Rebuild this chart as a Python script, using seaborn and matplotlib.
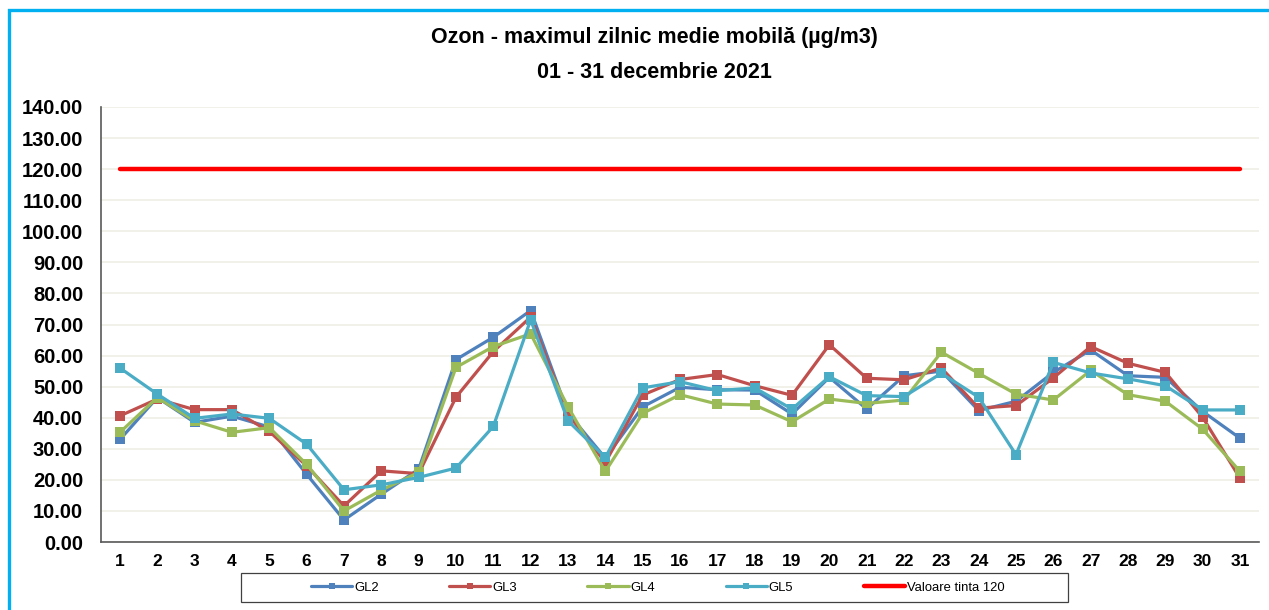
import matplotlib
matplotlib.use("Agg")
import matplotlib.pyplot as plt
import matplotlib.patches as patches
import seaborn as sns
import pandas as pd

days = list(range(1, 32))
gl2 = [33.0, 46.5, 38.5, 40.5, 37.0, 21.8, 7.1, 15.4, 23.4, 58.7, 65.9, 74.5, 41.5, 27.0, 43.5,
       49.8, 49.0, 48.9, 41.2, 53.0, 42.8, 53.5, 55.0, 42.3, 45.3, 54.6, 61.8, 53.5, 53.0, 42.0, 33.4]
gl3 = [40.6, 46.0, 42.6, 42.6, 35.6, 24.5, 11.6, 22.9, 22.0, 46.6, 61.3, 72.4, 41.2, 25.6, 47.3,
       52.3, 53.9, 50.3, 47.2, 63.5, 52.7, 52.2, 56.0, 43.1, 43.9, 52.8, 62.9, 57.5, 54.6, 40.1, 20.5]
gl4 = [35.3, 46.5, 39.0, 35.3, 36.8, 25.0, 10.0, 16.7, 22.4, 56.2, 62.9, 67.0, 43.5, 22.7, 41.4,
       47.4, 44.4, 44.1, 38.7, 46.0, 44.6, 45.7, 61.1, 54.3, 47.6, 45.7, 55.2, 47.4, 45.3, 36.3, 22.7]
gl5 = [56.0, 47.6, 39.8, 41.2, 39.8, 31.5, 16.8, 18.4, 20.8, 23.8, 37.2, 71.5, 39.0, 27.2, 49.6,
       51.6, 48.7, 49.6, 42.8, 53.2, 47.1, 46.8, 54.3, 46.6, 28.1, 57.8, 54.4, 52.5, 50.3, 42.5, 42.5]
target_value = 120
stations = ["GL2", "GL3", "GL4", "GL5"]
colors = ["#4F81BD", "#C0504D", "#9BBB59", "#4BACC6"]
target_label = "Valoare tinta 120"

rows = []
for name, vals in zip(stations, [gl2, gl3, gl4, gl5]):
    for d, v in zip(days, vals):
        rows.append({"zi": d, "valoare": v, "statie": name})
df = pd.DataFrame(rows)
df_target = pd.DataFrame({"zi": days, "valoare": [target_value] * len(days)})

sns.set_style("white")
plt.rcParams["font.family"] = ["Liberation Sans", "DejaVu Sans"]
plt.rcParams["text.color"] = "black"
plt.rcParams["xtick.color"] = "black"
plt.rcParams["ytick.color"] = "black"

fig = plt.figure(figsize=(12.69, 6.10), dpi=100)
ax = fig.add_axes([101.3 / 1269, 1 - 542 / 610, (1258.7 - 101.3) / 1269, (542 - 107) / 610])

sns.lineplot(data=df, x="zi", y="valoare", hue="statie", style="statie",
             palette=colors, markers=["s"] * 4, dashes=False, linewidth=2.3,
             markersize=7.5, markeredgewidth=0, ax=ax)
sns.lineplot(data=df_target, x="zi", y="valoare", color="#FF0000", linewidth=3.2,
             label=target_label, ax=ax)

ax.set_xlim(0.5, 31.5)
ax.set_ylim(0, 140)
ax.set_yticks(range(0, 141, 10))
ax.set_yticklabels([f"{v:.2f}" for v in range(0, 141, 10)])
ax.set_xticks(days)
ax.set_xticklabels([str(d) for d in days])
ax.grid(axis="y", color="#EFEFE6", linewidth=1.2)
ax.grid(axis="x", visible=False)
ax.set_axisbelow(True)
for side in ["top", "right"]:
    ax.spines[side].set_visible(False)
for side in ["left", "bottom"]:
    ax.spines[side].set_color("#595959")
    ax.spines[side].set_linewidth(1.2)
ax.tick_params(axis="y", length=0, pad=13, labelsize=14.5, labelcolor="black")
ax.tick_params(axis="x", length=0, pad=9, labelsize=12.5, labelcolor="black")
for lab in ax.get_xticklabels() + ax.get_yticklabels():
    lab.set_fontweight("bold")
ax.set_xlabel("")
ax.set_ylabel("")

fig.text(654 / 1269, 1 - 38 / 610, "Ozon - maximul zilnic medie mobilă (µg/m3)",
         ha="center", va="center", fontsize=15.5, fontweight="bold", color="black")
fig.text(654 / 1269, 1 - 72 / 610, "01 - 31 decembrie 2021",
         ha="center", va="center", fontsize=15.5, fontweight="bold", color="black")

handles, labels = ax.get_legend_handles_labels()
leg = ax.legend(handles, labels, ncol=5, loc="center left",
                bbox_to_anchor=(311 / 1269, 1 - 587.5 / 610), bbox_transform=fig.transFigure,
                frameon=False, prop={"size": 9.4},
                handlelength=3.15, handletextpad=0.15, columnspacing=5.4,
                borderpad=0, borderaxespad=0, markerscale=0.5, labelcolor="black")

# legend frame and the cyan chart border
fig.patches.append(patches.Rectangle((241 / 1269, 1 - 602 / 610), 827 / 1269, 29 / 610,
                                     transform=fig.transFigure, fill=False,
                                     edgecolor="#404040", linewidth=0.9, figure=fig))
fig.patches.append(patches.Rectangle((9 / 1269, -0.1), 1.2, 1.1 - 10 / 610,
                                     transform=fig.transFigure, fill=False,
                                     edgecolor="#00B0F0", linewidth=2.4, figure=fig))

fig.savefig("out.png", dpi=100)
